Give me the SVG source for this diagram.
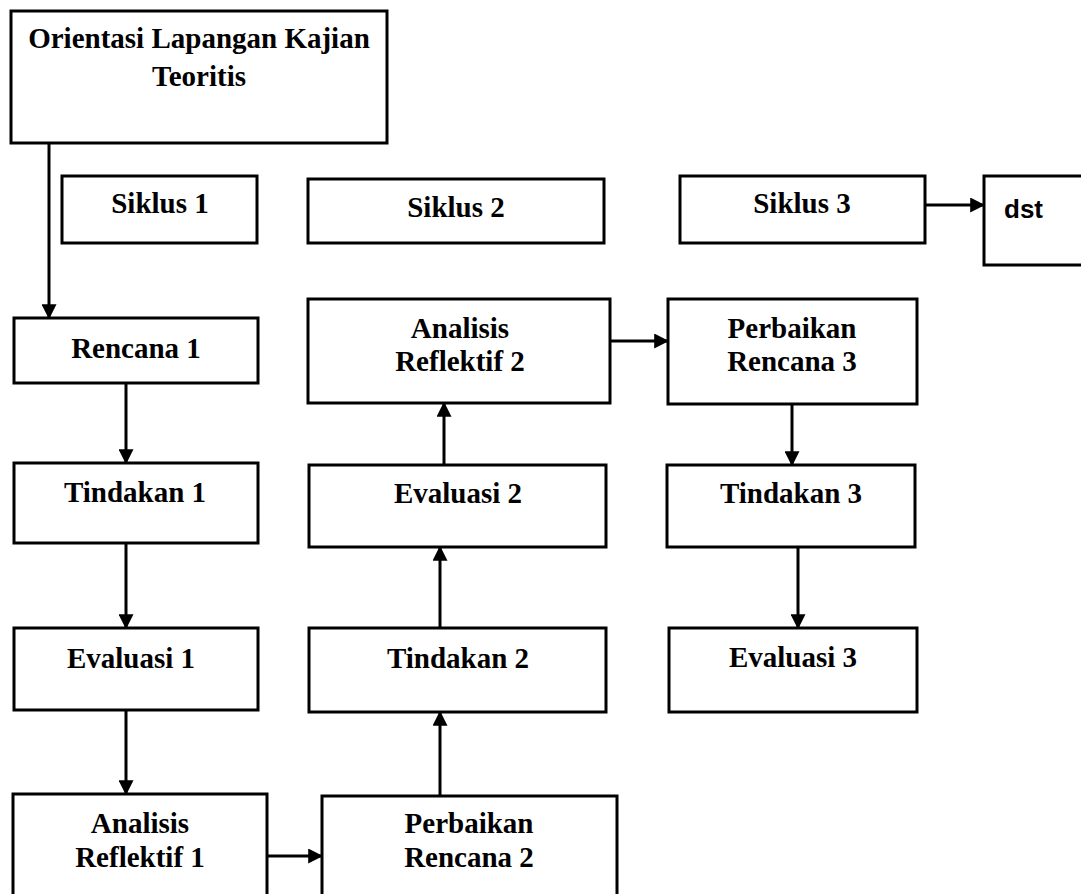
<svg xmlns="http://www.w3.org/2000/svg" width="1081" height="894" viewBox="0 0 1081 894">
<defs>
<style>
rect{fill:#fff;stroke:#000;stroke-width:3}
text{font-family:"Liberation Serif","Times New Roman",serif;font-weight:bold;font-size:29px;text-anchor:middle;fill:#000}
.s{font-family:"Liberation Sans",Arial,sans-serif;text-anchor:start;font-size:26px}
.c line{stroke:#000;stroke-width:3;marker-end:url(#a)}
</style>
<marker id="a" markerWidth="5" markerHeight="5" refX="4.6" refY="2.5" orient="auto" markerUnits="strokeWidth"><path d="M0,0 L5,2.5 L0,5 Z" fill="#000"/></marker>
</defs>
<g id="orientasi"><rect x="11" y="11" width="376" height="132"/><text x="199" y="48">Orientasi Lapangan Kajian</text><text x="199" y="86">Teoritis</text></g>
<g id="siklus1"><rect x="62" y="176" width="195" height="67"/><text x="160" y="213">Siklus 1</text></g>
<g id="siklus2"><rect x="308" y="179" width="296" height="64"/><text x="456" y="217">Siklus 2</text></g>
<g id="siklus3"><rect x="680" y="176" width="245" height="67"/><text x="802" y="213">Siklus 3</text></g>
<g id="dst"><rect x="984" y="176" width="110" height="89"/><text class="s" x="1004" y="218">dst</text></g>
<g id="rencana1"><rect x="14" y="318" width="244" height="65"/><text x="136" y="358">Rencana 1</text></g>
<g id="tindakan1"><rect x="14" y="463" width="244" height="80"/><text x="135" y="502">Tindakan 1</text></g>
<g id="evaluasi1"><rect x="14" y="628" width="244" height="82"/><text x="131" y="668">Evaluasi 1</text></g>
<g id="analisis1"><rect x="13" y="794" width="254" height="110"/><text x="140" y="833">Analisis</text><text x="140" y="867">Reflektif 1</text></g>
<g id="perbaikan2"><rect x="322" y="796" width="295" height="110"/><text x="469" y="833">Perbaikan</text><text x="469" y="867">Rencana 2</text></g>
<g id="tindakan2"><rect x="309" y="628" width="297" height="84"/><text x="458" y="668">Tindakan 2</text></g>
<g id="evaluasi2"><rect x="309" y="465" width="297" height="82"/><text x="458" y="503">Evaluasi 2</text></g>
<g id="analisis2"><rect x="308" y="299" width="302" height="104"/><text x="460" y="338">Analisis</text><text x="460" y="371">Reflektif 2</text></g>
<g id="perbaikan3"><rect x="668" y="299" width="249" height="105"/><text x="792" y="338">Perbaikan</text><text x="792" y="371">Rencana 3</text></g>
<g id="tindakan3"><rect x="667" y="465" width="248" height="82"/><text x="791" y="503">Tindakan 3</text></g>
<g id="evaluasi3"><rect x="669" y="628" width="248" height="84"/><text x="793" y="667">Evaluasi 3</text></g>
<g id="connectors" class="c">
<line x1="49" y1="143" x2="49" y2="318"/>
<line x1="925" y1="205" x2="984" y2="205"/>
<line x1="126" y1="383" x2="126" y2="463"/>
<line x1="126" y1="543" x2="126" y2="628"/>
<line x1="126" y1="710" x2="126" y2="794"/>
<line x1="267" y1="856" x2="322" y2="856"/>
<line x1="440" y1="796" x2="440" y2="712"/>
<line x1="440" y1="628" x2="440" y2="547"/>
<line x1="444" y1="465" x2="444" y2="403"/>
<line x1="610" y1="341" x2="668" y2="341"/>
<line x1="792" y1="404" x2="792" y2="465"/>
<line x1="798" y1="547" x2="798" y2="628"/>
</g>
</svg>
